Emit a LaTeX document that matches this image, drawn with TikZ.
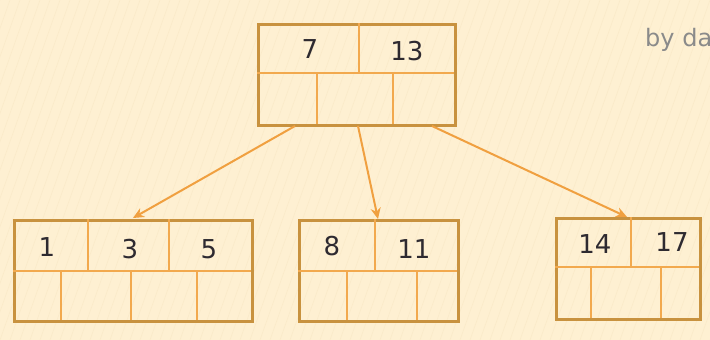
\documentclass[tikz,border=0pt]{standalone}
\usepackage{fontspec}
\setmainfont{DejaVu Sans}
\usetikzlibrary{arrows.meta}
\definecolor{paper}{HTML}{FEF0D2}
\definecolor{stripe}{HTML}{F6E4C0}
\definecolor{frame}{HTML}{C8923F}
\definecolor{divider}{HTML}{F2A94E}
\definecolor{link}{HTML}{F0A040}
\definecolor{digits}{HTML}{2E2A30}
\definecolor{sign}{HTML}{8A8A8A}
\tikzset{
  keybox/.style={draw=frame, line width=2.8pt, fill=none, inner sep=0pt},
  cut/.style={draw=divider, line width=2.2pt},
  key/.style={text=digits, font=\fontsize{26}{26}\selectfont, inner sep=0pt, anchor=base},
  child/.style={draw=link, line width=2pt, -{Stealth[length=11pt,width=10pt]}}
}
\begin{document}
\begin{tikzpicture}[x=1pt,y=-1pt]
  \useasboundingbox (0,0) rectangle (710,340);
  \clip (0,0) rectangle (710,340);
  \fill[paper] (0,0) rectangle (710,340);
  % faint diagonal hatching of the paper
  \foreach \s in {-340,-330,...,710}
    \draw[stripe, line width=0.6pt, opacity=0.5] (\s,340) -- (\s+120,0);

  % root node
  \node[keybox, minimum width=197pt, minimum height=101pt, anchor=north west] (root) at (257,23) {};
  \draw[cut] (257,73) -- (454,73);
  \draw[cut] (359,23) -- (359,73);
  \draw[cut] (317,73) -- (317,124);
  \draw[cut] (393,73) -- (393,124);
  \node[key] (r7) at (310,58) {7};
  \node[key] (r13) at (407,60) {13};

  % left leaf
  \node[keybox, minimum width=238pt, minimum height=101pt, anchor=north west] (leafA) at (13,219) {};
  \draw[cut] (13,271) -- (251,271);
  \draw[cut] (88,219) -- (88,271);
  \draw[cut] (169,219) -- (169,271);
  \draw[cut] (61,271) -- (61,320);
  \draw[cut] (131,271) -- (131,320);
  \draw[cut] (197,271) -- (197,320);
  \node[key] (a1) at (47,256) {1};
  \node[key] (a3) at (130,258) {3};
  \node[key] (a5) at (209,258) {5};

  % middle leaf
  \node[keybox, minimum width=159pt, minimum height=101pt, anchor=north west] (leafB) at (298,219) {};
  \draw[cut] (298,271) -- (457,271);
  \draw[cut] (375,219) -- (375,271);
  \draw[cut] (347,271) -- (347,320);
  \draw[cut] (417,271) -- (417,320);
  \node[key] (b8) at (332,255) {8};
  \node[key] (b11) at (414,258) {11};

  % right leaf
  \node[keybox, minimum width=144pt, minimum height=101pt, anchor=north west] (leafC) at (555,217) {};
  \draw[cut] (555,267) -- (699,267);
  \draw[cut] (631,217) -- (631,267);
  \draw[cut] (591,267) -- (591,318);
  \draw[cut] (661,267) -- (661,318);
  \node[key] (c14) at (595,253) {14};
  \node[key] (c17) at (672,251) {17};

  % pointer anchors
  \coordinate (pA) at (295,126);
  \coordinate (pB) at (358,126);
  \coordinate (pC) at (432,126);
  \coordinate (tA) at (133,218);
  \coordinate (tB) at (378,219);
  \coordinate (tC) at (627,217);
  \draw[child] (pA) -- (tA);
  \draw[child] (pB) -- (tB);
  \draw[child] (pC) -- (tC);

  \node[text=sign, font=\fontsize{24}{24}\selectfont, anchor=base west, inner sep=0pt] (byline) at (645,46) {by dan};
\end{tikzpicture}
\end{document}
